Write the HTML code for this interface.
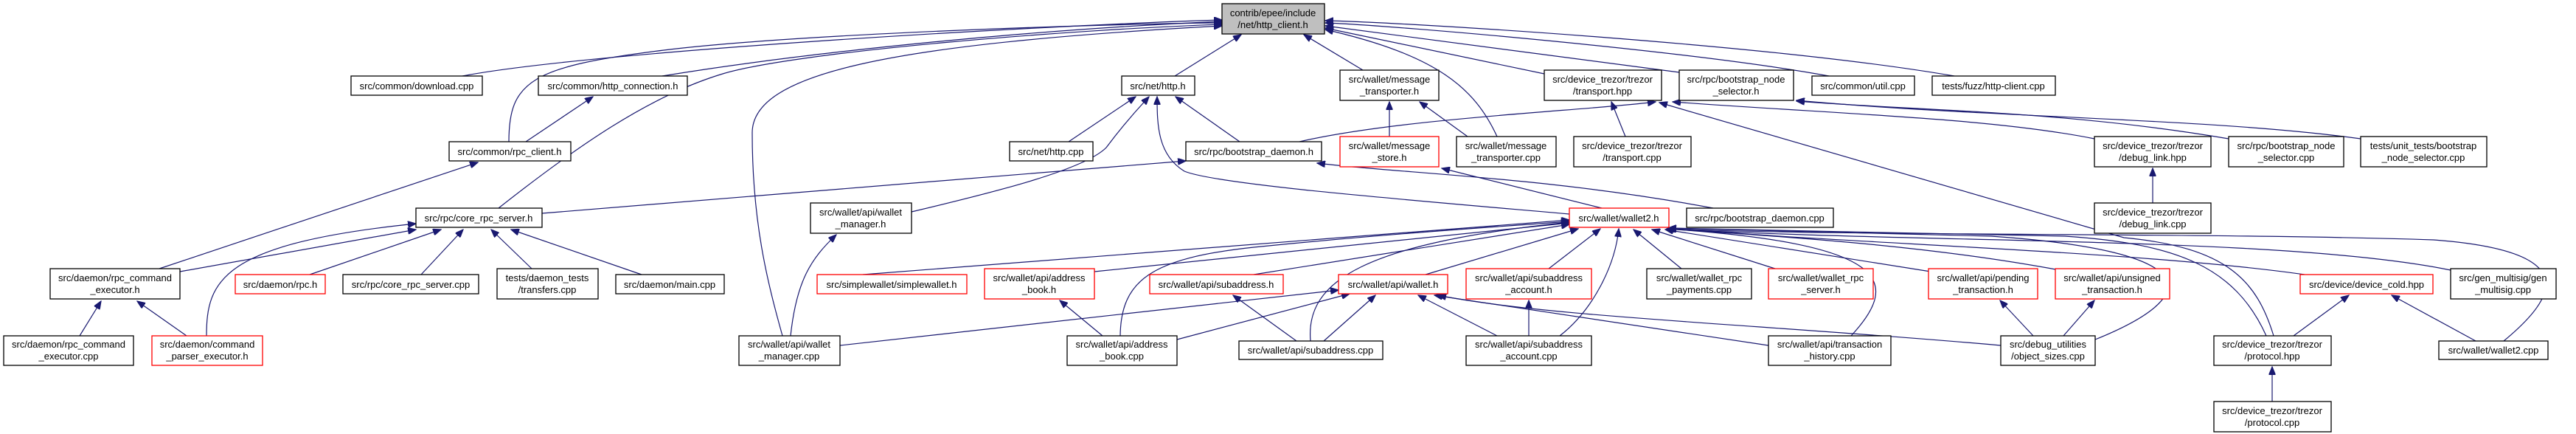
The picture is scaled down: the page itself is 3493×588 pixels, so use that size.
<!DOCTYPE html>
<html><head><meta charset="utf-8"><style>
html,body{margin:0;padding:0;background:#fff;}
svg{display:block;}
text{font-family:"Liberation Sans",sans-serif;font-size:13px;fill:#000;text-anchor:middle;}
rect{fill:#fff;stroke:#000;stroke-width:1.3;}
rect.r{stroke:#ff0000;}
rect.g{fill:#bfbfbf;}
path{fill:none;stroke:#191970;stroke-width:1.2;marker-end:url(#a);}
</style></head><body>
<svg width="3493" height="588" viewBox="0 0 3493 588" xmlns="http://www.w3.org/2000/svg">
<defs><marker id="a" markerUnits="userSpaceOnUse" markerWidth="12" markerHeight="9" refX="11" refY="4.5" orient="auto"><path d="M0,0 L11,4.5 L0,9 z" style="fill:#191970;stroke:#191970;marker-end:none"/></marker></defs>

<path d="M627,103 C800,70 1400,35 1657,27"/>
<path d="M898,103 C1100,70 1400,40 1657,29"/>
<path d="M690,192 C690,110 720,90 900,68 S1500,32 1657,31"/>
<path d="M676,282 C780,200 880,130 980,100 S1450,40 1657,33"/>
<path d="M1061,455 C1040,380 1020,300 1020,180 C1020,100 1200,60 1657,35"/>
<path d="M1593,103 L1683,47"/>
<path d="M1848,95 L1768,47"/>
<path d="M2030,185 C2000,120 1950,75 1797,40"/>
<path d="M2094,100 L1797,38"/>
<path d="M2277,98 L1797,35"/>
<path d="M2480,103 C2300,70 1900,35 1797,31"/>
<path d="M2650,103 C2400,60 1900,30 1797,28"/>
<path d="M713,192 L804,131"/>
<path d="M216,364 L648,220"/>
<path d="M244,368 L564,311"/>
<path d="M280,455 C280,380 300,330 564,303"/>
<path d="M420,372 L598,311"/>
<path d="M571,372 L628,311"/>
<path d="M721,364 L666,311"/>
<path d="M870,372 L693,311"/>
<path d="M108,455 L137,408"/>
<path d="M253,455 L186,408"/>
<path d="M1449,192 L1540,131"/>
<path d="M1681,192 L1594,131"/>
<path d="M1236,287 C1350,260 1470,230 1500,200 C1530,160 1550,140 1558,131"/>
<path d="M2128,290 C1900,270 1650,250 1606,232 C1570,210 1569,170 1569,131"/>
<path d="M735,289 L1608,218"/>
<path d="M2323,282 C2100,240 1900,235 1786,221"/>
<path d="M1762,192 C1900,160 2150,150 2245,138"/>
<path d="M2204,185 L2185,138"/>
<path d="M3083,455 C3060,380 3020,335 2880,322 L2250,139"/>
<path d="M2840,188 C2700,160 2500,155 2268,138"/>
<path d="M3022,188 C2800,150 2600,150 2436,137"/>
<path d="M3201,188 C3000,160 2700,160 2436,136"/>
<path d="M1884,185 L1884,138"/>
<path d="M1990,185 L1925,138"/>
<path d="M2172,282 L1955,228"/>
<path d="M2919,275 L2919,228"/>
<path d="M1170,372 L2128,298"/>
<path d="M1484,368 L2128,302"/>
<path d="M1519,455 C1520,380 1560,350 1700,335 C1900,315 2050,306 2128,300"/>
<path d="M1700,372 L2128,304"/>
<path d="M1777,462 C1770,380 1850,330 2128,301"/>
<path d="M1933,372 L2140,310"/>
<path d="M2100,364 L2170,310"/>
<path d="M2115,455 C2160,420 2190,360 2195,310"/>
<path d="M2280,364 L2215,311"/>
<path d="M2407,364 L2240,311"/>
<path d="M2510,455 C2580,380 2560,330 2260,310"/>
<path d="M2618,368 L2258,311"/>
<path d="M2793,366 C2600,330 2400,320 2260,310"/>
<path d="M2841,460 C2990,400 2990,340 2700,320 L2262,309"/>
<path d="M3125,372 C2900,340 2500,330 2262,309"/>
<path d="M3073,455 C3030,360 2950,330 2800,320 L2262,309"/>
<path d="M3323,366 C3100,320 2600,330 2262,310"/>
<path d="M3395,462 C3470,400 3500,340 3300,325 C3000,315 2500,320 2262,310"/>
<path d="M1139,468 L1815,393"/>
<path d="M1596,460 L1830,398"/>
<path d="M1795,462 L1865,400"/>
<path d="M2030,455 L1923,400"/>
<path d="M2398,468 L1945,400"/>
<path d="M2713,468 C2400,440 2100,430 1950,400"/>
<path d="M1495,455 L1437,407"/>
<path d="M1758,462 L1672,400"/>
<path d="M2073,455 L2073,407"/>
<path d="M2757,455 L2712,407"/>
<path d="M2798,455 L2840,407"/>
<path d="M3110,455 L3185,400"/>
<path d="M3357,462 L3243,400"/>
<path d="M3081,544 L3081,497"/>
<path d="M1072,455 C1080,380 1100,350 1134,318"/>

<rect class="g" x="1657" y="5" width="139" height="41"/><text x="1726" y="22">contrib/epee/include</text><text x="1726" y="38">/net/http_client.h</text>
<rect x="476" y="103" width="178" height="26"/><text x="565" y="121">src/common/download.cpp</text>
<rect x="730" y="103" width="202" height="26"/><text x="831" y="121">src/common/http_connection.h</text>
<rect x="609" y="192" width="165" height="26"/><text x="691" y="210">src/common/rpc_client.h</text>
<rect x="564" y="282" width="171" height="26"/><text x="649" y="300">src/rpc/core_rpc_server.h</text>
<rect x="68" y="364" width="176" height="41"/><text x="156" y="381">src/daemon/rpc_command</text><text x="156" y="397">_executor.h</text>
<rect class="r" x="319" y="372" width="122" height="26"/><text x="380" y="390">src/daemon/rpc.h</text>
<rect x="465" y="372" width="184" height="26"/><text x="557" y="390">src/rpc/core_rpc_server.cpp</text>
<rect x="674" y="364" width="137" height="41"/><text x="742" y="381">tests/daemon_tests</text><text x="742" y="397">/transfers.cpp</text>
<rect x="835" y="372" width="147" height="26"/><text x="908" y="390">src/daemon/main.cpp</text>
<rect x="5" y="455" width="176" height="40"/><text x="93" y="471">src/daemon/rpc_command</text><text x="93" y="487">_executor.cpp</text>
<rect class="r" x="206" y="455" width="150" height="40"/><text x="281" y="471">src/daemon/command</text><text x="281" y="487">_parser_executor.h</text>
<rect x="1521" y="103" width="99" height="26"/><text x="1570" y="121">src/net/http.h</text>
<rect x="1369" y="192" width="113" height="26"/><text x="1425" y="210">src/net/http.cpp</text>
<rect x="1608" y="192" width="184" height="26"/><text x="1700" y="210">src/rpc/bootstrap_daemon.h</text>
<rect x="1099" y="275" width="137" height="41"/><text x="1167" y="292">src/wallet/api/wallet</text><text x="1167" y="308">_manager.h</text>
<rect class="r" x="1108" y="372" width="203" height="26"/><text x="1209" y="390">src/simplewallet/simplewallet.h</text>
<rect class="r" x="1335" y="364" width="149" height="41"/><text x="1409" y="381">src/wallet/api/address</text><text x="1409" y="397">_book.h</text>
<rect class="r" x="1559" y="372" width="181" height="26"/><text x="1649" y="390">src/wallet/api/subaddress.h</text>
<rect x="1002" y="455" width="137" height="40"/><text x="1070" y="471">src/wallet/api/wallet</text><text x="1070" y="487">_manager.cpp</text>
<rect x="1447" y="455" width="149" height="40"/><text x="1521" y="471">src/wallet/api/address</text><text x="1521" y="487">_book.cpp</text>
<rect x="1680" y="462" width="195" height="25"/><text x="1777" y="479">src/wallet/api/subaddress.cpp</text>
<rect x="1817" y="95" width="134" height="41"/><text x="1884" y="112">src/wallet/message</text><text x="1884" y="128">_transporter.h</text>
<rect x="2094" y="95" width="159" height="41"/><text x="2173" y="112">src/device_trezor/trezor</text><text x="2173" y="128">/transport.hpp</text>
<rect x="2277" y="95" width="155" height="41"/><text x="2354" y="112">src/rpc/bootstrap_node</text><text x="2354" y="128">_selector.h</text>
<rect x="2457" y="103" width="139" height="26"/><text x="2526" y="121">src/common/util.cpp</text>
<rect x="2620" y="103" width="167" height="26"/><text x="2703" y="121">tests/fuzz/http-client.cpp</text>
<rect class="r" x="1817" y="185" width="134" height="41"/><text x="1884" y="202">src/wallet/message</text><text x="1884" y="218">_store.h</text>
<rect x="1975" y="185" width="135" height="41"/><text x="2042" y="202">src/wallet/message</text><text x="2042" y="218">_transporter.cpp</text>
<rect x="2134" y="185" width="159" height="41"/><text x="2213" y="202">src/device_trezor/trezor</text><text x="2213" y="218">/transport.cpp</text>
<rect class="r" x="2128" y="282" width="135" height="26"/><text x="2195" y="300">src/wallet/wallet2.h</text>
<rect x="2287" y="282" width="199" height="26"/><text x="2386" y="300">src/rpc/bootstrap_daemon.cpp</text>
<rect class="r" x="1815" y="372" width="148" height="26"/><text x="1889" y="390">src/wallet/api/wallet.h</text>
<rect class="r" x="1988" y="364" width="170" height="41"/><text x="2073" y="381">src/wallet/api/subaddress</text><text x="2073" y="397">_account.h</text>
<rect x="2233" y="364" width="142" height="41"/><text x="2304" y="381">src/wallet/wallet_rpc</text><text x="2304" y="397">_payments.cpp</text>
<rect class="r" x="2398" y="364" width="142" height="41"/><text x="2469" y="381">src/wallet/wallet_rpc</text><text x="2469" y="397">_server.h</text>
<rect class="r" x="2615" y="364" width="148" height="41"/><text x="2689" y="381">src/wallet/api/pending</text><text x="2689" y="397">_transaction.h</text>
<rect x="1988" y="455" width="170" height="40"/><text x="2073" y="471">src/wallet/api/subaddress</text><text x="2073" y="487">_account.cpp</text>
<rect x="2398" y="455" width="166" height="40"/><text x="2481" y="471">src/wallet/api/transaction</text><text x="2481" y="487">_history.cpp</text>
<rect x="2840" y="185" width="158" height="41"/><text x="2919" y="202">src/device_trezor/trezor</text><text x="2919" y="218">/debug_link.hpp</text>
<rect x="3022" y="185" width="156" height="41"/><text x="3100" y="202">src/rpc/bootstrap_node</text><text x="3100" y="218">_selector.cpp</text>
<rect x="3201" y="185" width="171" height="41"/><text x="3286" y="202">tests/unit_tests/bootstrap</text><text x="3286" y="218">_node_selector.cpp</text>
<rect x="2840" y="275" width="158" height="41"/><text x="2919" y="292">src/device_trezor/trezor</text><text x="2919" y="308">/debug_link.cpp</text>
<rect class="r" x="2787" y="364" width="155" height="41"/><text x="2864" y="381">src/wallet/api/unsigned</text><text x="2864" y="397">_transaction.h</text>
<rect class="r" x="3119" y="372" width="180" height="26"/><text x="3209" y="390">src/device/device_cold.hpp</text>
<rect x="3323" y="364" width="143" height="41"/><text x="3394" y="381">src/gen_multisig/gen</text><text x="3394" y="397">_multisig.cpp</text>
<rect x="2713" y="455" width="128" height="40"/><text x="2777" y="471">src/debug_utilities</text><text x="2777" y="487">/object_sizes.cpp</text>
<rect x="3002" y="455" width="159" height="40"/><text x="3081" y="471">src/device_trezor/trezor</text><text x="3081" y="487">/protocol.hpp</text>
<rect x="3307" y="462" width="148" height="25"/><text x="3381" y="479">src/wallet/wallet2.cpp</text>
<rect x="3002" y="544" width="159" height="41"/><text x="3081" y="561">src/device_trezor/trezor</text><text x="3081" y="577">/protocol.cpp</text>
</svg>
</body></html>
